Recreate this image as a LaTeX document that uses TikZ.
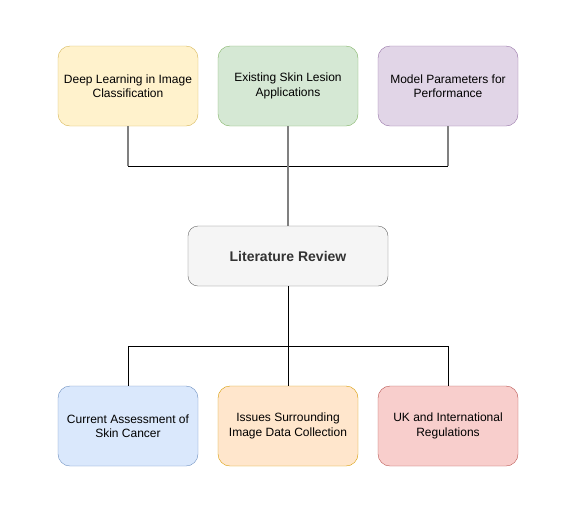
\documentclass[tikz,border=0pt]{standalone}
\usepackage{fontspec}
\setmainfont{Liberation Sans}

\definecolor{yellowfill}{HTML}{FFF2CC}
\definecolor{yellowline}{HTML}{D6B656}
\definecolor{greenfill}{HTML}{D5E8D4}
\definecolor{greenline}{HTML}{82B366}
\definecolor{purplefill}{HTML}{E1D5E7}
\definecolor{purpleline}{HTML}{9673A6}
\definecolor{grayfill}{HTML}{F5F5F5}
\definecolor{grayline}{HTML}{666666}
\definecolor{bluefill}{HTML}{DAE8FC}
\definecolor{blueline}{HTML}{6C8EBF}
\definecolor{orangefill}{HTML}{FFE6CC}
\definecolor{orangeline}{HTML}{D79B00}
\definecolor{redfill}{HTML}{F8CECC}
\definecolor{redline}{HTML}{B85450}
\definecolor{linkgray}{HTML}{808080}

\tikzset{
	topic/.style={rounded corners=12pt, minimum width=140pt, minimum height=80pt,
		align=center, font=\fontsize{12}{14.5}\selectfont, inner sep=0pt},
	link/.style={linkgray, line width=2pt},
}

\begin{document}
\begin{tikzpicture}[x=1pt, y=-1pt]
	\useasboundingbox (0,0) rectangle (578,507);

	\node[topic, fill=yellowfill, draw=yellowline] (dl) at (128,86) {Deep Learning in Image\\Classification};
	\node[topic, fill=greenfill, draw=greenline] (sl) at (288,86) {Existing Skin Lesion\\Applications};
	\node[topic, fill=purplefill, draw=purpleline] (mp) at (448,86) {Model Parameters for\\Performance};

	\node[rounded corners=10pt, minimum width=200pt, minimum height=60pt, fill=grayfill, draw=grayline,
		text=black!80, font=\fontsize{14}{16}\selectfont\bfseries] (lr) at (288,256) {Literature Review};

	\node[topic, fill=bluefill, draw=blueline] (ca) at (128,426) {Current Assessment of\\Skin Cancer};
	\node[topic, fill=orangefill, draw=orangeline] (dc) at (288,426) {Issues Surrounding\\Image Data Collection};
	\node[topic, fill=redfill, draw=redline] (uk) at (448,426) {UK and International\\Regulations};

	\coordinate (tl) at (128,166);
	\coordinate (tr) at (448,166);
	\coordinate (bl) at (128,346);
	\coordinate (bm) at (288,346);
	\coordinate (br) at (448,346);

	\draw (tl) -- (tr);
	\draw[link] (dl.south) -- (tl);
	\draw[link] (mp.south) -- (tr);
	\draw[link] (sl.south) -- (lr.north);

	\draw (lr.south) -- (bm);
	\draw (bl) -- (br);
	\draw (bl) -- (ca.north);
	\draw (bm) -- (dc.north);
	\draw (br) -- (uk.north);
\end{tikzpicture}
\end{document}
